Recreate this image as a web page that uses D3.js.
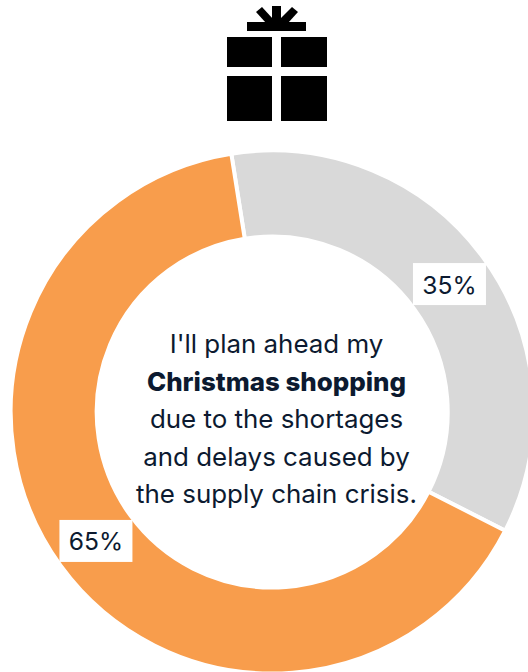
<!DOCTYPE html>
<html>
<head>
<meta charset="utf-8">
<style>
  html, body { margin: 0; padding: 0; background: #fff; overflow: hidden; }
  svg { display: block; }
  text { font-family: Inter, "Noto Sans", sans-serif; fill: #0c1a30; }
</style>
<script src="https://cdnjs.cloudflare.com/ajax/libs/d3/7.8.5/d3.min.js"></script>
</head>
<body>
<svg id="chart" width="528" height="672"></svg>
<script>
// Survey answers, in share of respondents
const answers = ["Disagree", "Agree"];
const shares = [35, 65];
const sliceColors = ["#d9d9d9", "#f89d4c"];
const captionLines = [
  "I'll plan ahead my",
  "Christmas shopping",
  "due to the shortages",
  "and delays caused by",
  "the supply chain crisis."
];
const boldLine = 1;

const svg = d3.select("#chart");
const cx = 272.2, cy = 412, outer = 261.5, inner = 175.5;
const rotation = -9 * Math.PI / 180;

// Gift icon: lid, box halves, ribbon bar and bow rays
const icon = svg.append("g").attr("fill", "#000");
[[227, 37, 45, 30], [281, 37, 46, 30], [227, 76, 45, 45], [281, 76, 46, 45], [247, 22, 59, 9], [272, 6, 9, 17]]
  .forEach(([x, y, w, h]) => icon.append("rect").attr("x", x).attr("y", y).attr("width", w).attr("height", h));
icon.append("path").attr("d", "M256,12 L262,7 L273,19 L273,23 L266,23 Z");
icon.append("path").attr("d", "M298,12 L292,7 L280,19 L280,23 L288,23 Z");

// Donut
const pie = d3.pie().sort(null).value(d => d)
  .startAngle(rotation).endAngle(rotation + 2 * Math.PI);
const arc = d3.arc().innerRadius(inner).outerRadius(outer);
const arcs = pie(shares);
const donut = svg.append("g").attr("transform", `translate(${cx},${cy})`);

donut.selectAll("path").data(arcs).join("path")
  .attr("d", arc)
  .attr("fill", (d, i) => sliceColors[i])
  .attr("stroke", "#fff")
  .attr("stroke-width", 4)
  .attr("data-answer", (d, i) => answers[i]);

// Value tags sitting on the ring
const tags = donut.selectAll("g.tag").data(arcs).join("g")
  .attr("class", "tag")
  .attr("transform", d => `translate(${arc.centroid(d)})`);
tags.append("rect")
  .attr("x", -36).attr("y", -20.5).attr("width", 73).attr("height", 42)
  .attr("fill", "#fff");
tags.append("text")
  .attr("text-anchor", "middle")
  .attr("x", 0.5)
  .attr("y", 10)
  .attr("font-size", 24.6)
  .text(d => d.value + "%");

// Caption in the hole
svg.append("g").selectAll("text").data(captionLines).join("text")
  .attr("x", 276.5)
  .attr("y", (d, i) => 353 + i * 37.5)
  .attr("text-anchor", "middle")
  .attr("font-size", 25.9)
  .attr("font-weight", (d, i) => i === boldLine ? 800 : 400)
  .text(d => d);
</script>
</body>
</html>
